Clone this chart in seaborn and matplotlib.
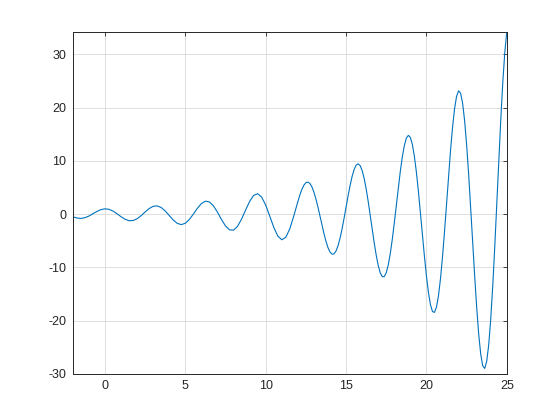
import matplotlib
matplotlib.use("Agg")
import matplotlib.pyplot as plt
import numpy as np
import pandas as pd
import seaborn as sns

# values: coarse steps where the swing is small, finer later on
x_coarse = np.arange(-2, 12, 0.25)
y_coarse = [-0.4912, -0.7293, -0.7990, -0.6701, -0.3608, 0.0636, 0.5031, 0.8468,
            1.0, 0.9095, 0.5803, 0.0787, -0.4801, -0.9578, -1.2266, -1.2024,
            -0.8698, -0.2907, 0.4054, 1.0497, 1.4739, 1.5536, 1.2430, 0.5923,
            -0.2577, -1.1048, -1.7329, -1.9655, -1.7140, -1.0067, 0.0097, 1.0960,
            1.9885, 2.4367, 2.2967, 1.5604, 0.3717, -0.9999, -2.2180, -2.9595,
            -3.0029, -2.2855, -0.9267, 0.7647, 2.3885, 3.5225, 3.8412, 3.2042,
            1.7028, -0.3441, -2.4547, -4.0956, -4.8133, -4.3566, -2.7547, -0.3318]

x_fine = np.arange(12, 25.001, 0.125)
y_fine = [2.3553, 3.5897, 4.6406, 5.4344, 5.9114, 6.0296, 5.7685, 5.1309,
          4.1438, 2.8571, 1.3418, -0.3139, -2.0098, -3.6396, -5.0970, -6.2832,
          -7.1127, -7.5200, -7.4636, -6.9303, -5.9367, -4.5293, -2.7826, -0.7953,
          1.3148, 3.4180, 5.3802, 7.0715, 8.3743, 9.1918, 9.4542, 9.1247,
          8.2027, 6.7253, 4.7663, 2.4329, -0.1402, -2.7979, -5.3742, -7.7023,
          -9.6250, -11.0053, -11.7357, -11.7459, -11.0092, -9.5454, -7.4210, -4.7473,
          -1.6744, 1.6169, 4.9249, 8.0398, 10.7566, 12.8878, 14.2765, 14.8075,
          14.4157, 13.0925, 10.8884, 7.9113, 4.3226, 0.3285, -3.8317, -7.8995,
          -11.6125, -14.7218, -17.0076, -18.2944, -18.4641, -17.4653, -15.3191, -12.1202,
          -8.0339, -3.2879, 1.8398, 7.0369, 11.9753, 16.3313, 19.8068, 22.1485,
          23.1663, 22.7472, 20.8658, 17.5883, 13.0729, 7.5615, 1.3686, -5.1364,
          -11.5513, -17.4646, -22.4818, -26.2508, -28.4869, -28.9921, -27.6712, -24.5417,
          -19.7372, -13.5023, -6.1817, 1.7984, 9.9542, 17.7733, 24.7460, 30.3978,
          34.3213]

x_ticks = [0, 5, 10, 15, 20, 25]
y_ticks = [-30, -20, -10, 0, 10, 20, 30]

df = pd.DataFrame({"x": np.concatenate([x_coarse, x_fine]),
                   "y": y_coarse + y_fine})

sns.set_theme(style="white")
plt.rcParams['font.family'] = ['Liberation Sans', 'DejaVu Sans']
plt.rcParams['axes.unicode_minus'] = False

fig = plt.figure(figsize=(5.6, 4.2), dpi=100)
ax = fig.add_axes([0.13, 0.11, 0.775, 0.815])

sns.lineplot(data=df, x="x", y="y", ax=ax, color="#0072BD", linewidth=0.8,
             estimator=None, sort=False)

ax.set_xlim(-2, 25)
ax.set_ylim(-30, df["y"].max())
ax.set_xticks(x_ticks)
ax.set_yticks(y_ticks)
ax.set_xlabel("")
ax.set_ylabel("")

ax.grid(True, color="#dedede", linewidth=0.7)
ax.set_axisbelow(True)
ax.tick_params(direction="in", length=3.2, width=0.6, top=True, right=True,
               labelsize=9, colors="#262626", pad=4.5)
for s in ax.spines.values():
    s.set_color("#262626")
    s.set_linewidth(0.7)

fig.savefig("out.png", dpi=100)
